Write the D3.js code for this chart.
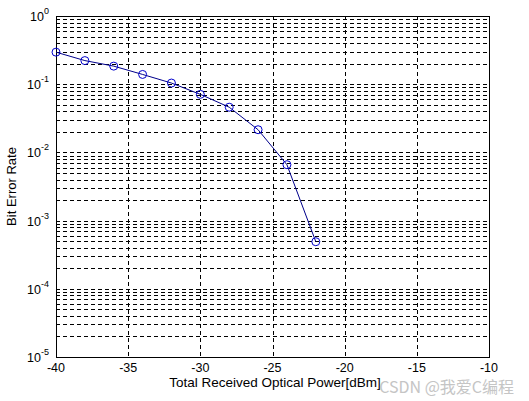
<!DOCTYPE html>
<html><head><meta charset="utf-8">
<script src="https://cdn.jsdelivr.net/npm/d3@7"></script>
<style>body{margin:0;background:#fff}svg{display:block;font-family:"Liberation Sans",Arial,sans-serif}</style>
</head><body><svg id="c" width="529" height="401"></svg>
<script>
const power = [-40,-38,-36,-34,-32,-30,-28,-26,-24,-22];
const ber = [0.295,0.222,0.184,0.139,0.104,0.071,0.046,0.0215,0.0066,0.00049];
const xTicks = [-40,-35,-30,-25,-20,-15,-10];
const yExps = [0,-1,-2,-3,-4,-5];

const svg = d3.select("#c");
const L=56,R=489,T=16,B=357;
const x = d3.scaleLinear().domain([-40,-10]).range([L,R]);
const y = d3.scaleLog().domain([1e-5,1]).range([B,T]);

const g = svg.append("g");
const minor=[];
for(let e=-5;e<0;e++){for(let m=1;m<10;m++){minor.push(m*Math.pow(10,e));}}
g.selectAll(".hg").data(minor.filter(v=>v>1e-5)).enter().append("line")
 .attr("x1",L).attr("x2",R).attr("y1",d=>Math.round(y(d))+0.5).attr("y2",d=>Math.round(y(d))+0.5)
 .attr("stroke","#000").attr("stroke-width",1).attr("stroke-dasharray","4,3");
g.selectAll(".vg").data(xTicks.slice(1,-1)).enter().append("line")
 .attr("y1",T).attr("y2",B).attr("x1",d=>Math.round(x(d))+0.5).attr("x2",d=>Math.round(x(d))+0.5)
 .attr("stroke","#000").attr("stroke-width",1).attr("stroke-dasharray","4,3");
g.selectAll(".mt").data(minor).enter().append("line")
 .attr("x1",L).attr("x2",L+3).attr("y1",d=>Math.round(y(d))+0.5).attr("y2",d=>Math.round(y(d))+0.5).attr("stroke","#000");
g.append("rect").attr("x",L+0.5).attr("y",T+0.5).attr("width",R-L).attr("height",B-T)
 .attr("fill","none").attr("stroke","#000").attr("stroke-width",1);

svg.selectAll(".xt").data(xTicks).enter().append("text")
 .attr("x",d=>x(d)).attr("y",B+15).attr("text-anchor","middle").attr("font-size",12.5).text(d=>d);
const yl = svg.selectAll(".yt").data(yExps).enter().append("text")
 .attr("x",L-7).attr("y",d=>y(Math.pow(10,d))+5).attr("text-anchor","end").attr("font-size",12.5);
yl.append("tspan").text("10");
yl.append("tspan").attr("dy",-7).attr("font-size",9).text(d=>d);

svg.append("text").attr("x",275).attr("y",387).attr("text-anchor","middle").attr("font-size",13.5)
 .text("Total Received Optical Power[dBm]");
svg.append("text").attr("transform",`translate(16,${(T+B)/2}) rotate(-90)`).attr("text-anchor","middle").attr("font-size",13)
 .text("Bit Error Rate");

const line = d3.line().x((d,i)=>x(power[i])).y(d=>y(d));
svg.append("path").datum(ber).attr("d",line).attr("fill","none").attr("stroke","#00008b").attr("stroke-width",1);
svg.selectAll(".pt").data(ber).enter().append("circle")
 .attr("cx",(d,i)=>x(power[i])).attr("cy",d=>y(d)).attr("r",4)
 .attr("fill","none").attr("stroke","#0000cc").attr("stroke-width",1);

svg.append("text").attr("x",514).attr("y",393).attr("text-anchor","end").attr("font-size",16)
 .attr("fill","#bbb").attr("opacity",0.85).attr("font-family","'Noto Sans CJK SC',sans-serif").text("CSDN @我爱C编程");
</script></body></html>
